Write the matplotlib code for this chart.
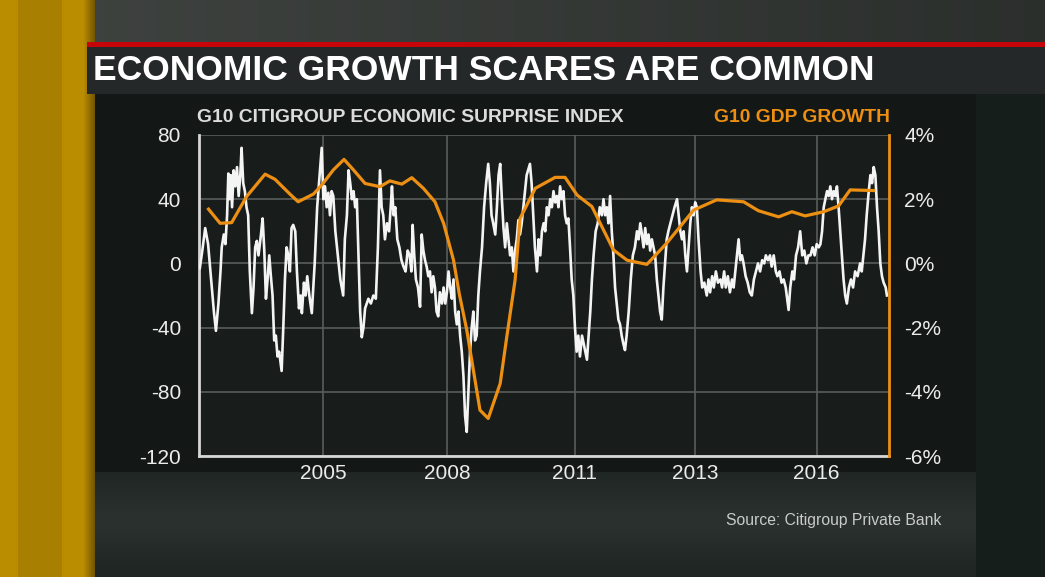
import numpy as np
import matplotlib
matplotlib.use("Agg")
import matplotlib.pyplot as plt

plt.rcParams["font.family"] = ["Liberation Sans", "DejaVu Sans"]
plt.rcParams["axes.unicode_minus"] = False

# -----------------------------
# Data
# -----------------------------
cesi_t = [
    2002.02, 2002.08, 2002.15, 2002.22, 2002.30, 2002.36, 2002.41, 2002.47, 2002.52, 2002.55,
    2002.60, 2002.64, 2002.68, 2002.71, 2002.74, 2002.77, 2002.80, 2002.84, 2002.88, 2002.92,
    2002.96, 2003.00, 2003.03, 2003.07, 2003.11, 2003.15, 2003.19, 2003.23, 2003.28, 2003.32,
    2003.36, 2003.40, 2003.44, 2003.50, 2003.54, 2003.58, 2003.62, 2003.66, 2003.70, 2003.74,
    2003.78, 2003.82, 2003.86, 2003.90, 2003.94, 2004.00, 2004.04, 2004.08, 2004.12, 2004.16,
    2004.20, 2004.24, 2004.28, 2004.33, 2004.37, 2004.42, 2004.46, 2004.49, 2004.54, 2004.58,
    2004.62, 2004.67, 2004.73, 2004.80, 2004.86, 2004.92, 2004.97, 2005.01, 2005.05, 2005.09,
    2005.13, 2005.17, 2005.21, 2005.25, 2005.30, 2005.36, 2005.42, 2005.49, 2005.53, 2005.58,
    2005.62, 2005.66, 2005.70, 2005.74, 2005.78, 2005.82, 2005.86, 2005.90, 2005.94, 2005.98,
    2006.02, 2006.06, 2006.10, 2006.16, 2006.22, 2006.28, 2006.33, 2006.38, 2006.42, 2006.46,
    2006.50, 2006.55, 2006.60, 2006.64, 2006.67, 2006.71, 2006.75, 2006.80, 2006.85, 2006.90,
    2006.95, 2007.00, 2007.05, 2007.10, 2007.14, 2007.17, 2007.21, 2007.25, 2007.30, 2007.35,
    2007.39, 2007.43, 2007.47, 2007.51, 2007.55, 2007.59, 2007.63, 2007.67, 2007.71, 2007.75,
    2007.79, 2007.83, 2007.88, 2007.92, 2007.96, 2008.00, 2008.04, 2008.08, 2008.12, 2008.16,
    2008.20, 2008.24, 2008.28, 2008.32, 2008.36, 2008.40, 2008.44, 2008.48, 2008.52, 2008.56,
    2008.60, 2008.64, 2008.68, 2008.72, 2008.76, 2008.80, 2008.85, 2008.90, 2008.95, 2009.00,
    2009.04, 2009.08, 2009.12, 2009.17, 2009.21, 2009.25, 2009.29, 2009.33, 2009.37, 2009.41,
    2009.45, 2009.49, 2009.53, 2009.57, 2009.61, 2009.65, 2009.69, 2009.73, 2009.77, 2009.81,
    2009.85, 2009.89, 2009.93, 2010.01, 2010.05, 2010.09, 2010.13, 2010.18, 2010.22, 2010.26,
    2010.30, 2010.34, 2010.38, 2010.42, 2010.46, 2010.50, 2010.54, 2010.58, 2010.62, 2010.66,
    2010.70, 2010.74, 2010.78, 2010.82, 2010.86, 2010.90, 2010.94, 2010.98, 2011.02, 2011.06,
    2011.10, 2011.14, 2011.18, 2011.22, 2011.27, 2011.31, 2011.35, 2011.39, 2011.43, 2011.47,
    2011.51, 2011.55, 2011.60, 2011.65, 2011.70, 2011.75, 2011.79, 2011.83, 2011.87, 2011.91,
    2011.95, 2011.99, 2012.03, 2012.07, 2012.11, 2012.15, 2012.19, 2012.23, 2012.27, 2012.31,
    2012.35, 2012.40, 2012.45, 2012.50, 2012.55, 2012.60, 2012.64, 2012.68, 2012.72, 2012.76,
    2012.80, 2012.84, 2012.88, 2012.92, 2012.96, 2013.00, 2013.04, 2013.08, 2013.12, 2013.16,
    2013.20, 2013.24, 2013.28, 2013.32, 2013.36, 2013.41, 2013.46, 2013.51, 2013.57, 2013.61,
    2013.65, 2013.69, 2013.73, 2013.77, 2013.81, 2013.85, 2013.89, 2013.93, 2013.97, 2014.01,
    2014.05, 2014.09, 2014.14, 2014.18, 2014.23, 2014.29, 2014.33, 2014.37, 2014.42, 2014.46,
    2014.51, 2014.56, 2014.62, 2014.66, 2014.71, 2014.75, 2014.80, 2014.85, 2014.90, 2014.94,
    2014.98, 2015.02, 2015.06, 2015.10, 2015.14, 2015.18, 2015.23, 2015.28, 2015.33, 2015.38,
    2015.43, 2015.48, 2015.53, 2015.58, 2015.63, 2015.68, 2015.72, 2015.77, 2015.82, 2015.86,
    2015.91, 2015.96, 2016.00, 2016.05, 2016.10, 2016.15, 2016.20, 2016.27, 2016.31, 2016.36,
    2016.40, 2016.45, 2016.50, 2016.55, 2016.60, 2016.65, 2016.70, 2016.75, 2016.80, 2016.85,
    2016.90, 2016.95, 2017.00, 2017.04, 2017.08, 2017.12, 2017.16, 2017.20, 2017.24, 2017.28,
    2017.32, 2017.36, 2017.40, 2017.44, 2017.48, 2017.52, 2017.56, 2017.60, 2017.64, 2017.68,
    2017.73, 2017.78, 2017.83, 2017.88, 2017.94, 2018.00, 2018.04, 2018.08, 2018.12, 2018.16,
    2018.21, 2018.25, 2018.29, 2018.33, 2018.37, 2018.41, 2018.45, 2018.49, 2018.53, 2018.57,
    2018.62, 2018.65,
]
cesi_v = [
    -3, 8, 22, 12, -12, -30, -42, -25, -5, 10,
    18, 12, 30, 56, 40, 55, 35, 58, 48, 60,
    42, 55, 72, 50, 45, 35, 30, -5, -31, -15,
    10, 14, 5, 18, 28, 8, -22, -10, 5, -8,
    -20, -48, -45, -58, -55, -67, -40, -10, 10, 5,
    -5, 22, 24, 20, -5, -28, -20, -31, -12, -20,
    -8, -20, -31, 0, 35, 55, 72, 40, 48, 35,
    44, 30, 45, 42, 20, 5, -10, -20, 15, 30,
    58, 50, 40, 45, 35, 40, 5, -30, -46, -40,
    -28, -25, -22, -25, -20, -22, 10, 58, 35, 30,
    15, 25, 20, 35, 48, 30, 35, 15, 10, 2,
    -2, -5, 8, 5, -5, 24, 5, -10, -15, -27,
    18, 8, 2, -2, -8, -5, -18, -8, -15, -30,
    -33, -18, -25, -15, -25, -18, -5, -15, -22, -10,
    -30, -38, -30, -45, -55, -70, -95, -105, -80, -55,
    -40, -30, -48, -45, -20, -5, 10, 35, 50, 62,
    50, 30, 25, 18, 35, 55, 62, 40, 22, 10,
    25, 15, 5, 10, -5, 8, 15, 27, 18, 25,
    35, 45, 55, 62, 50, 30, 10, -5, 15, 5,
    20, 25, 20, 35, 30, 40, 35, 45, 38, 42,
    35, 48, 40, 45, 30, 25, 28, 10, -10, -20,
    -40, -55, -45, -58, -45, -50, -55, -60, -45, -30,
    -10, 5, 20, 25, 35, 30, 40, 30, 35, 25,
    42, 20, 5, -15, -25, -35, -38, -45, -50, -54,
    -45, -30, -10, 5, 10, 20, 15, 25, 18, 10,
    22, 12, 18, 8, 15, 10, 5, -10, -20, -30,
    -35, -15, 0, 15, 20, 25, 30, 35, 40, 30,
    20, 15, 20, 5, -5, 10, 25, 35, 30, 38,
    35, 15, -5, -15, -12, -20, -10, -18, -8, -15,
    -5, -12, -10, -15, -5, -15, -8, -18, -10, -15,
    -5, 5, 15, 2, 5, 0, -8, -12, -18, -20,
    -10, -5, 0, -5, 2, 0, 5, 2, 5, -2,
    5, -5, -8, -5, -12, -10, -15, -29, -15, -5,
    -10, 5, 10, 20, 5, 8, 0, 5, 5, 10,
    5, 12, 10, 12, 20, 35, 40, 45, 42, 48,
    40, 45, 42, 48, 35, 20, 5, -10, -20, -25,
    -15, -10, -15, -5, -8, 0, -5, 5, 15, 30,
    45, 55, 50, 60, 55, 35, 20, 0, -8, -12,
    -15, -20,
]

gdp_t = [
    2002.23, 2002.51, 2002.79, 2003.15, 2003.60, 2003.84, 2004.20, 2004.40, 2004.77, 2004.97,
    2005.25, 2005.51, 2005.74, 2006.02, 2006.38, 2006.62, 2006.91, 2007.15, 2007.43, 2007.71,
    2007.92, 2008.16, 2008.30, 2008.48, 2008.80, 2009.00, 2009.29, 2009.45, 2009.65, 2009.77,
    2010.14, 2010.62, 2010.86, 2011.15, 2011.51, 2012.03, 2012.36, 2012.84, 2013.32, 2013.97,
    2014.53, 2015.18, 2015.54, 2016.03, 2016.35, 2016.67, 2017.12, 2017.48, 2017.76, 2018.33,
]
gdp_v = [
    1.69, 1.25, 1.27, 2.08, 2.78, 2.62, 2.16, 1.92, 2.16, 2.44,
    2.91, 3.24, 2.91, 2.49, 2.39, 2.57, 2.47, 2.67, 2.34, 1.92,
    1.25, 0.10, -0.95, -2.07, -4.57, -4.83, -3.74, -2.28, -0.52, 1.40,
    2.34, 2.68, 2.68, 2.13, 1.77, 0.42, 0.10, -0.03, 0.63, 1.66,
    1.98, 1.92, 1.64, 1.45, 1.61, 1.48, 1.61, 1.79, 2.29, 2.27,
]

x_ticks = [2005.0, 2008.0, 2011.1, 2014.0, 2016.95]
x_labels = ["2005", "2008", "2011", "2013", "2016"]
left_ticks = [-120, -80, -40, 0, 40, 80]
right_ticks = [-6, -4, -2, 0, 2, 4]

title = "ECONOMIC GROWTH SCARES ARE COMMON"
left_title = "G10 CITIGROUP ECONOMIC SURPRISE INDEX"
right_title = "G10 GDP GROWTH"
source = "Source: Citigroup Private Bank"

ORANGE = "#ec8f12"
WHITE = "#f4f4f4"

W, H = 1045, 577

# -----------------------------
# Studio background
# -----------------------------
fig = plt.figure(figsize=(W / 100, H / 100), dpi=100)

img = np.empty((H, W, 3))
img[:, :] = (0.10, 0.13, 0.12)

# grey studio wall above the graphic
top = np.linspace(0.25, 0.17, W)
img[:43, :, 0] = top
img[:43, :, 1] = top + 0.015
img[:43, :, 2] = top + 0.005

# lower band under the panel
rows = np.arange(472, H)
shade = 0.12 + 0.045 * np.exp(-((rows - 520) / 35.0) ** 2)
img[472:, 95:976, 0] = shade[:, None]
img[472:, 95:976, 1] = shade[:, None] + 0.025
img[472:, 95:976, 2] = shade[:, None] + 0.015

# right-hand dark area
img[94:, 976:] = (0.09, 0.12, 0.11)

# chart panel
img[94:472, 95:976] = (0.075, 0.095, 0.088)

# title bar and red rule
img[47:94, 87:] = (0.145, 0.16, 0.16)
img[42:47, 87:] = (0.78, 0.02, 0.04)

# yellow strip on the left
img[:, :95] = (0.73, 0.55, 0.0)
img[:, 18:62] = (0.66, 0.50, 0.0)
edge = np.linspace(1.0, 0.62, 12)
img[:, 83:95] = img[:, 83:95] * edge[None, :, None]
img[42:94, 87:95] = img[42:94, 95:96]

bg = fig.add_axes([0, 0, 1, 1])
bg.imshow(img, extent=(0, W, H, 0), aspect="auto", interpolation="bilinear")
bg.set_xlim(0, W)
bg.set_ylim(H, 0)
bg.axis("off")

bg.text(93, 71, title, color="white", fontsize=25.5, fontweight="bold",
        va="center", ha="left")
bg.text(197, 117, left_title, color="#dcdcdc", fontsize=13.9, fontweight="bold",
        va="center", ha="left")
bg.text(890, 117, right_title, color=ORANGE, fontsize=13.9, fontweight="bold",
        va="center", ha="right")
bg.text(726, 521, source, color="#c8cbc9", fontsize=11.3, va="center", ha="left")

# -----------------------------
# Chart
# -----------------------------
x0, x1, y0, y1 = 199, 889, 135, 456
ax = fig.add_axes([x0 / W, 1 - y1 / H, (x1 - x0) / W, (y1 - y0) / H])
ax.set_facecolor((0.095, 0.115, 0.11))

ax.plot(cesi_t, cesi_v, color=WHITE, linewidth=1.9, solid_joinstyle="round", zorder=3)

ax.set_xlim(2002.0, 2018.7)
ax.set_ylim(-120, 80)
ax.set_xticks(x_ticks)
ax.set_xticklabels(x_labels)
ax.set_yticks(left_ticks)
ax.grid(True, color="#585d5b", linewidth=1.2, zorder=0)
ax.tick_params(length=0, labelsize=15, colors="#ececec")
ax.tick_params(axis="y", pad=13)
ax.tick_params(axis="x", pad=6)

for s in ["top", "right"]:
    ax.spines[s].set_visible(False)
for s in ["left", "bottom"]:
    ax.spines[s].set_color("#d6d6d6")
    ax.spines[s].set_linewidth(2)

ax2 = ax.twinx()
ax2.plot(gdp_t, gdp_v, color=ORANGE, linewidth=2.3, solid_joinstyle="round", zorder=4)
ax2.set_ylim(-6, 4)
ax2.set_yticks(right_ticks)
ax2.set_yticklabels([f"{v}%" for v in right_ticks])
ax2.tick_params(length=0, labelsize=15, colors="#ececec", pad=11)
for s in ["top", "left", "bottom"]:
    ax2.spines[s].set_visible(False)
ax2.spines["right"].set_color(ORANGE)
ax2.spines["right"].set_linewidth(2)

fig.savefig("out.png", dpi=100)
